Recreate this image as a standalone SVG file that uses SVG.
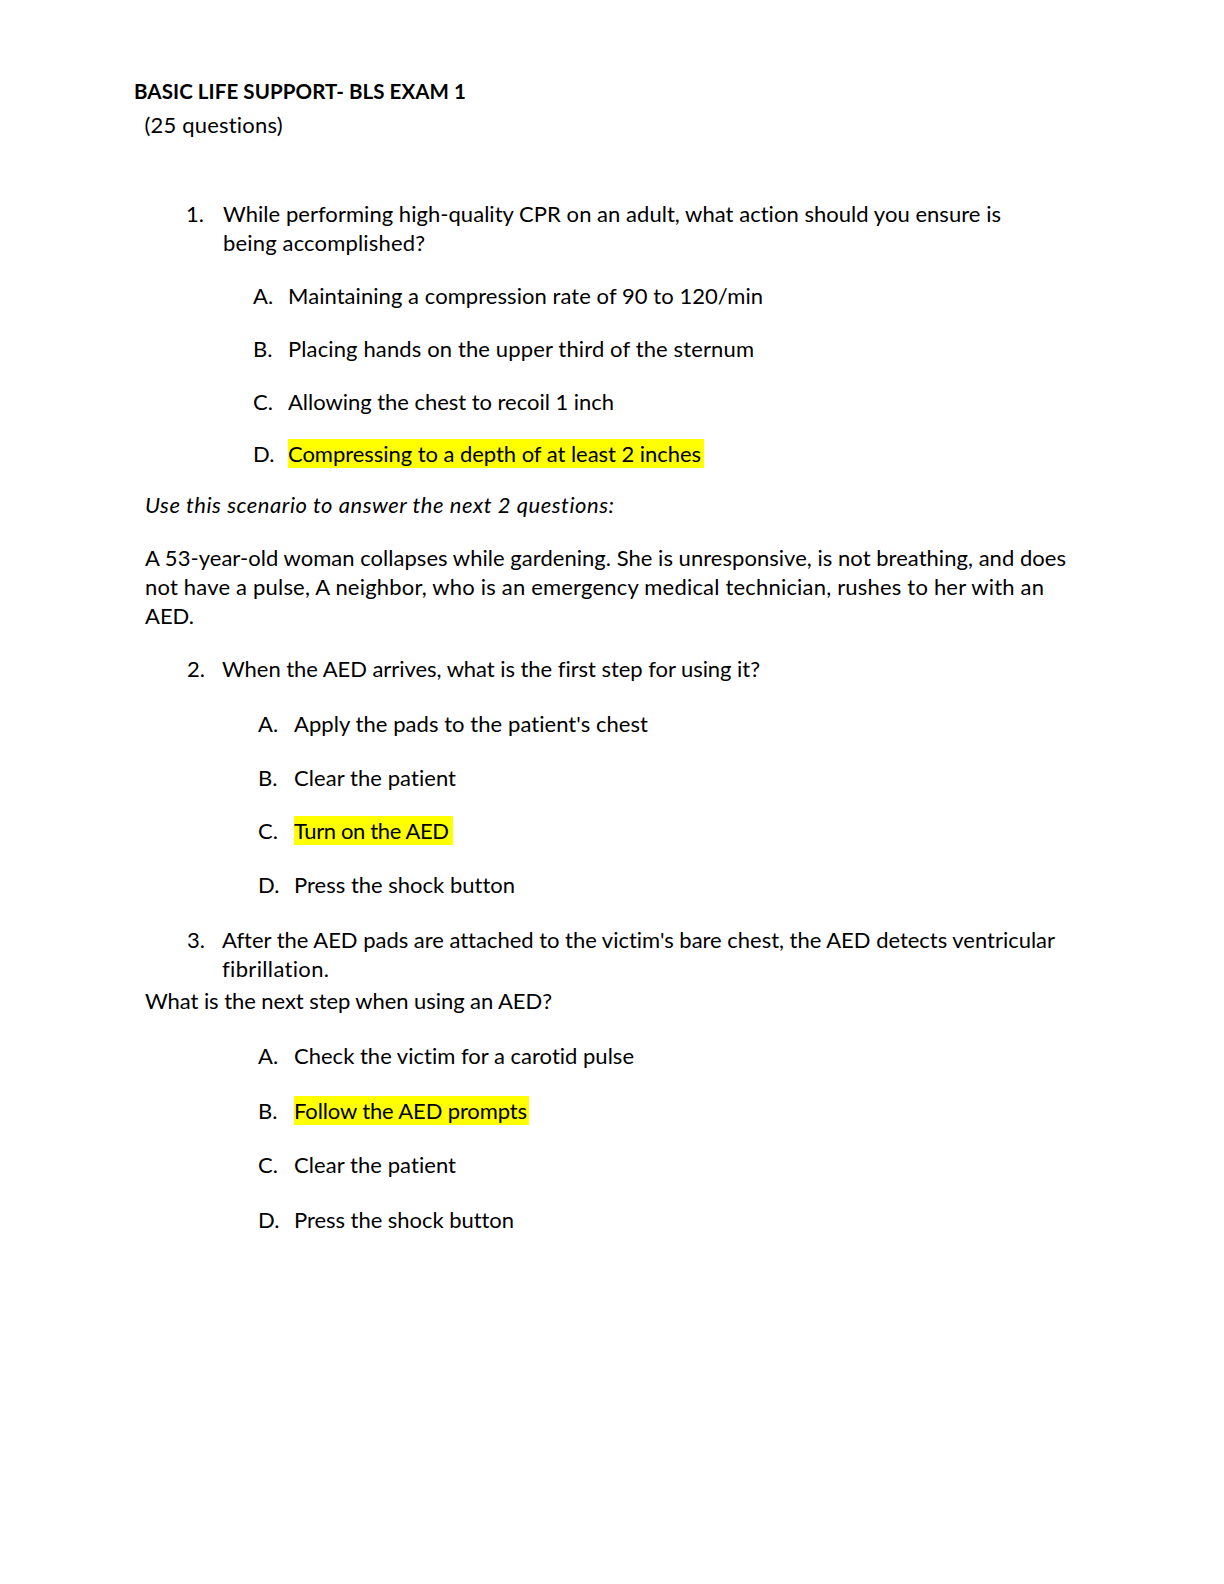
<svg xmlns="http://www.w3.org/2000/svg" width="1224" height="1584" viewBox="0 0 1224 1584">
<style>
text{font-family:Lato,"Liberation Sans",sans-serif;font-size:22px;fill:#000;font-variant-ligatures:none;font-feature-settings:"liga" 0,"dlig" 0}
.b{font-weight:bold;font-size:20.5px}
.i{font-style:italic}
.hl{fill:#ffff00}
</style>
<rect width="1224" height="1584" fill="#fff"/>
<g id="header">
<text class="b" x="134" y="99" textLength="332">BASIC LIFE SUPPORT- BLS EXAM 1</text>
<text x="144.5" y="133" textLength="138">(25 questions)</text>
</g>
<g id="q1">
<text x="186" y="222">1.</text>
<text x="223" y="222" textLength="778">While performing high-quality CPR on an adult, what action should you ensure is</text>
<text x="223" y="251" textLength="202">being accomplished?</text>
<text x="253" y="304">A.</text>
<text x="288" y="304" textLength="475">Maintaining a compression rate of 90 to 120/min</text>
<text x="253" y="357">B.</text>
<text x="288" y="357" textLength="466">Placing hands on the upper third of the sternum</text>
<text x="253" y="409.5">C.</text>
<text x="288" y="409.5" textLength="326">Allowing the chest to recoil 1 inch</text>
<rect class="hl" x="288" y="439" width="416" height="29"/>
<text x="253" y="462">D.</text>
<text x="288" y="462" textLength="413">Compressing to a depth of at least 2 inches</text>
</g>
<g id="scenario">
<text class="i" x="145" y="513" textLength="469">Use this scenario to answer the next 2 questions:</text>
<text x="145" y="566" textLength="921">A 53-year-old woman collapses while gardening. She is unresponsive, is not breathing, and does</text>
<text x="145" y="595" textLength="899">not have a pulse, A neighbor, who is an emergency medical technician, rushes to her with an</text>
<text x="145" y="624">AED.</text>
</g>
<g id="q2">
<text x="187" y="677">2.</text>
<text x="222" y="677" textLength="538">When the AED arrives, what is the first step for using it?</text>
<text x="258" y="732">A.</text>
<text x="294" y="732" textLength="354">Apply the pads to the patient's chest</text>
<text x="258" y="786">B.</text>
<text x="294" y="786" textLength="162">Clear the patient</text>
<rect class="hl" x="294" y="816" width="159" height="29"/>
<text x="258" y="839">C.</text>
<text x="294" y="839" textLength="155">Turn on the AED</text>
<text x="258" y="893">D.</text>
<text x="294" y="893" textLength="221">Press the shock button</text>
</g>
<g id="q3">
<text x="187" y="948">3.</text>
<text x="222" y="948" textLength="833">After the AED pads are attached to the victim's bare chest, the AED detects ventricular</text>
<text x="222" y="977" textLength="107">fibrillation.</text>
<text x="145" y="1009" textLength="407">What is the next step when using an AED?</text>
<text x="258" y="1064">A.</text>
<text x="294" y="1064" textLength="340">Check the victim for a carotid pulse</text>
<rect class="hl" x="294" y="1096" width="235" height="29"/>
<text x="258" y="1119">B.</text>
<text x="294" y="1119" textLength="233">Follow the AED prompts</text>
<text x="258" y="1173">C.</text>
<text x="294" y="1173" textLength="162">Clear the patient</text>
<text x="258" y="1228">D.</text>
<text x="294" y="1228" textLength="220">Press the shock button</text>
</g>
</svg>
